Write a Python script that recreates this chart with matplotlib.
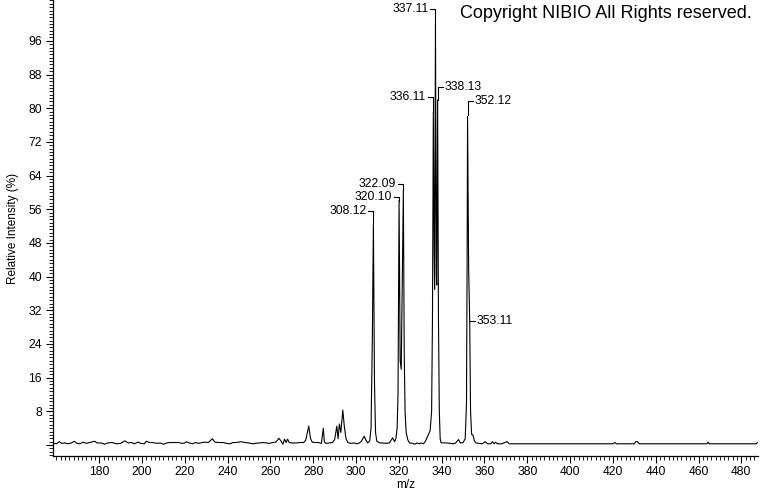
import matplotlib
matplotlib.use("Agg")
import matplotlib.pyplot as plt
from matplotlib.ticker import MultipleLocator, FixedLocator, FuncFormatter

plt.rcParams['font.family'] = ['Liberation Sans', 'DejaVu Sans']

# profile spectrum (m/z, relative intensity %)
mz = [158.0, 160.0, 161.4, 162.5, 164.0, 165.5, 167.0, 168.4, 169.5, 171.0,
      172.5, 174.0, 175.5, 177.9, 179.0, 181.0, 182.5, 184.0, 186.0, 188.0,
      190.0, 192.0, 193.5, 195.0, 196.5, 198.0, 199.5, 201.0, 202.0, 203.5,
      205.0, 207.0, 208.5, 210.0, 211.5, 213.0, 215.0, 217.0, 218.5, 220.0,
      220.7, 222.0, 223.5, 225.0, 226.5, 228.0, 229.5, 231.0, 232.9, 234.0,
      236.0, 238.0, 239.5, 241.0, 242.5, 244.0, 246.3, 248.0, 250.0, 251.5,
      253.0, 255.0, 256.5, 258.0, 259.5, 261.0, 262.5, 264.0, 265.0, 265.8,
      266.6, 267.3, 268.0, 268.8, 270.0, 272.0, 274.0, 275.5, 276.5, 277.9,
      278.7, 279.5, 281.0, 282.5, 283.8, 284.7, 285.2, 286.0, 287.5, 289.0,
      290.0, 291.0, 291.6, 292.2, 292.9, 293.8, 294.5, 295.3, 296.2, 297.5,
      299.0, 300.5, 301.5, 302.5, 303.8, 304.6, 305.4, 306.4, 307.0, 307.6,
      308.1, 308.6, 309.1, 309.7, 311.0, 312.5, 314.0, 315.5, 317.1, 318.0,
      318.6, 319.2, 319.6, 320.1, 320.6, 321.1, 321.6, 322.1, 322.5, 322.9,
      323.4, 324.2, 325.0, 326.5, 327.5, 328.5, 329.5, 330.5, 331.5, 332.3,
      333.1, 334.6, 335.3, 335.7, 336.1, 336.5, 336.7, 337.1, 337.5, 337.7,
      338.1, 338.5, 338.9, 339.3, 339.7, 341.0, 342.5, 344.0, 345.5, 346.5,
      347.9, 348.7, 350.0, 351.0, 351.6, 351.9, 352.1, 352.6, 353.1, 353.5,
      354.0, 354.6, 355.3, 356.0, 357.5, 359.0, 360.3, 361.5, 363.0, 363.7,
      364.5, 365.2, 366.0, 368.0, 370.6, 371.5, 420.0, 420.9, 421.7, 430.0,
      430.7, 431.5, 432.3, 464.0, 464.5, 465.0, 487.0, 487.5]
intensity = [0.5, 0.3, 0.8, 0.4, 0.5, 0.3, 0.5, 0.9, 0.4, 0.3,
             0.7, 0.4, 0.6, 0.9, 0.5, 0.5, 0.2, 0.5, 0.6, 0.3,
             0.4, 1.0, 0.5, 0.6, 0.3, 0.7, 0.4, 0.3, 0.9, 0.6,
             0.6, 0.4, 0.5, 0.2, 0.5, 0.6, 0.6, 0.6, 0.4, 0.5,
             0.8, 0.5, 0.3, 0.6, 0.4, 0.6, 0.7, 0.6, 1.5, 0.7,
             0.6, 0.6, 0.4, 0.3, 0.6, 0.6, 0.8, 0.6, 0.5, 0.3,
             0.4, 0.5, 0.6, 0.5, 0.4, 0.6, 0.7, 1.6, 0.9, 0.2,
             1.4, 0.6, 1.4, 0.6, 0.5, 0.5, 0.6, 0.6, 1.2, 4.5,
             1.6, 0.7, 0.6, 0.6, 0.4, 4.0, 0.7, 0.4, 0.5, 0.6,
             1.3, 4.5, 1.5, 5.0, 3.0, 8.3, 4.5, 1.5, 0.6, 0.4,
             0.5, 0.3, 0.5, 0.9, 2.1, 1.2, 0.5, 1.0, 4.0, 25.0,
             52.5, 15.0, 3.0, 0.9, 0.5, 0.5, 0.4, 0.5, 1.7, 0.8,
             1.5, 4.0, 12.0, 58.0, 20.0, 18.0, 40.0, 60.5, 22.0, 8.0,
             3.0, 1.2, 0.5, 0.4, 0.2, 0.5, 0.3, 0.5, 0.3, 0.8,
             1.7, 3.4, 8.0, 30.0, 79.0, 45.0, 37.0, 100.0, 40.0, 38.0,
             82.0, 30.0, 8.0, 1.5, 0.6, 0.5, 0.5, 0.4, 0.3, 0.5,
             1.3, 0.5, 0.6, 1.5, 10.0, 45.0, 78.0, 42.0, 29.3, 8.0,
             2.5, 2.4, 1.0, 0.5, 0.4, 0.3, 0.8, 0.3, 0.3, 0.8,
             0.3, 0.7, 0.3, 0.3, 0.8, 0.3, 0.3, 0.6, 0.3, 0.3,
             0.8, 0.8, 0.3, 0.3, 0.7, 0.3, 0.3, 0.6]

# peak labels
label_mz = [308.12, 320.10, 322.09, 336.11, 337.11, 338.13, 352.12, 353.11]
label_text = ['308.12', '320.10', '322.09', '336.11', '337.11', '338.13', '352.12', '353.11']
label_top = [52.7, 58.0, 60.5, 79.0, 100.0, 82.0, 78.5, 29.5]
label_height = [55.6, 58.9, 62.0, 82.7, 103.6, 85.0, 81.7, 29.5]
label_side = ['left', 'left', 'left', 'left', 'left', 'right', 'right', 'right']

x_ticks = list(range(180, 481, 20))
y_ticks = list(range(0, 97, 8))

fig = plt.figure(figsize=(7.6, 4.92), dpi=100)
ax = fig.add_axes([53 / 760, 36 / 492, 705 / 760, 456 / 492])

ax.plot(mz, intensity, color='black', lw=0.8)

for m, t, top, h, side in zip(label_mz, label_text, label_top, label_height, label_side):
    if side == 'left':
        ax.plot([m - 2.5, m, m], [h, h, top], color='black', lw=0.8)
        ax.text(m - 3.3, h, t, ha='right', va='center', fontsize=8.7)
    else:
        ax.plot([m + 2.3, m, m], [h, h, top], color='black', lw=0.8)
        ax.text(m + 3.4, h, t, ha='left', va='center', fontsize=8.7)

ax.set_xlim(158.4, 487.8)
ax.set_ylim(-2.6, 105.7)

ax.spines['top'].set_visible(False)
ax.spines['right'].set_visible(False)
ax.spines['left'].set_linewidth(0.9)
ax.spines['bottom'].set_linewidth(0.9)

ax.xaxis.set_major_locator(FixedLocator(x_ticks))
ax.xaxis.set_minor_locator(MultipleLocator(2))
ax.yaxis.set_major_locator(FixedLocator(y_ticks))
ax.yaxis.set_major_formatter(FuncFormatter(lambda v, p: '' if v == 0 else '%d' % v))
ax.yaxis.set_minor_locator(MultipleLocator(0.8))
ax.tick_params(which='major', length=5, width=0.8, labelsize=8.7, pad=3)
ax.tick_params(axis='x', which='major', pad=2)
ax.tick_params(which='minor', length=3, width=0.6)

ax.set_xlabel('m/z', fontsize=8.5)
ax.xaxis.set_label_coords(0.5, -23 / 456)
ax.set_ylabel('Relative Intensity (%)', fontsize=8.5, labelpad=7)

fig.text(752 / 760, 1 - 14 / 492, 'Copyright NIBIO All Rights reserved.',
         ha='right', va='center', fontsize=13)

fig.savefig('out.png', dpi=100)
